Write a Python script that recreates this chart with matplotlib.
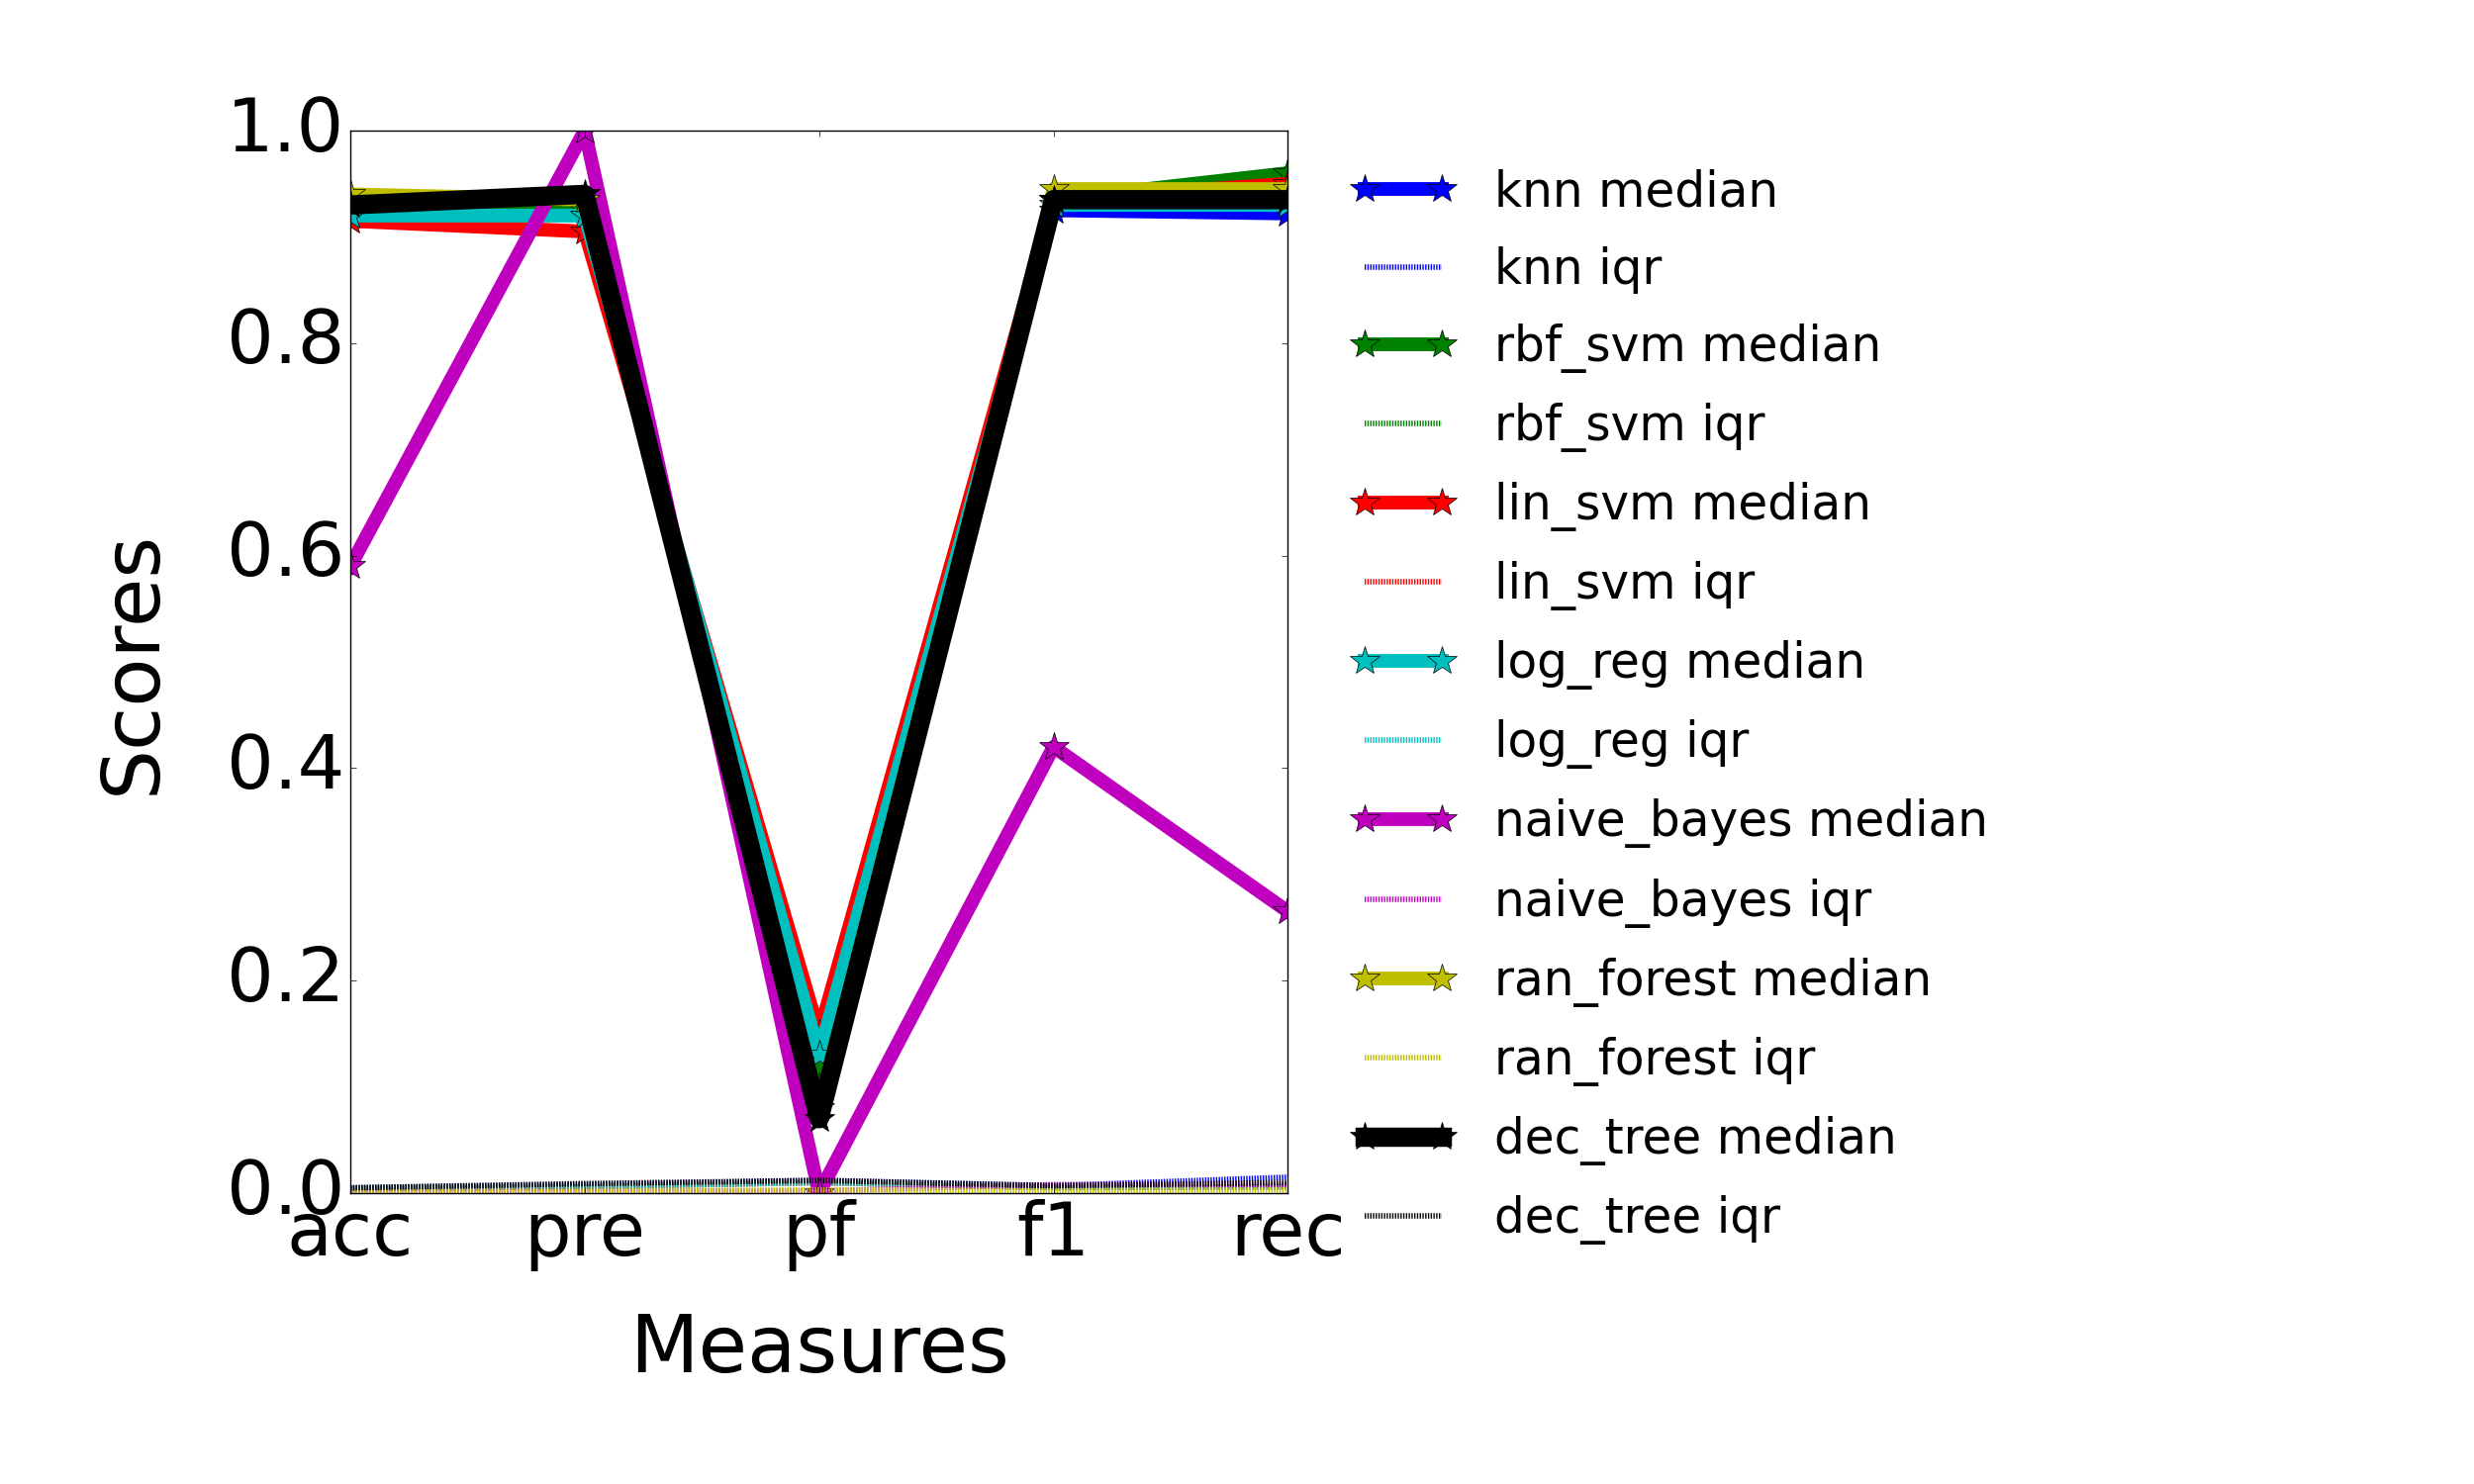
import matplotlib
matplotlib.use("Agg")
import matplotlib.pyplot as plt

measures = ["acc", "pre", "pf", "f1", "rec"]
learners = ["knn", "rbf_svm", "lin_svm", "log_reg", "naive_bayes", "ran_forest", "dec_tree"]
colors = ["b", "g", "r", "c", "m", "y", "k"]

knn_median = [0.925, 0.93, 0.09, 0.925, 0.922]
rbf_svm_median = [0.925, 0.925, 0.10, 0.935, 0.96]
lin_svm_median = [0.915, 0.905, 0.15, 0.935, 0.95]
log_reg_median = [0.92, 0.92, 0.13, 0.93, 0.93]
naive_bayes_median = [0.59, 1.0, 0.0, 0.42, 0.265]
ran_forest_median = [0.94, 0.935, 0.08, 0.945, 0.945]
dec_tree_median = [0.93, 0.94, 0.07, 0.935, 0.935]

knn_iqr = [0.005, 0.008, 0.012, 0.007, 0.015]
rbf_svm_iqr = [0.004, 0.006, 0.01, 0.005, 0.006]
lin_svm_iqr = [0.004, 0.006, 0.01, 0.005, 0.006]
log_reg_iqr = [0.004, 0.006, 0.01, 0.005, 0.006]
naive_bayes_iqr = [0.001, 0.002, 0.002, 0.008, 0.008]
ran_forest_iqr = [0.001, 0.002, 0.003, 0.002, 0.003]
dec_tree_iqr = [0.005, 0.009, 0.012, 0.007, 0.010]

medians = [knn_median, rbf_svm_median, lin_svm_median, log_reg_median,
           naive_bayes_median, ran_forest_median, dec_tree_median]
iqrs = [knn_iqr, rbf_svm_iqr, lin_svm_iqr, log_reg_iqr,
        naive_bayes_iqr, ran_forest_iqr, dec_tree_iqr]

plt.style.use("classic")
fig = plt.figure(figsize=(25, 15), dpi=100)
ax = fig.add_axes([0.1416, 0.196, 0.379, 0.716])
x = range(len(measures))
for name, c, med, iqr in zip(learners, colors, medians, iqrs):
    lw = 14 if c == "k" else 10
    ax.plot(x, med, color=c, lw=lw, marker="*", markersize=22, label=name + " median")
    ax.plot(x, iqr, color=c, lw=4, linestyle=(0, (1, 1)), label=name + " iqr")

ax.set_xlim(0, 4)
ax.set_ylim(0, 1)
ax.set_xticks(list(x))
ax.set_xticklabels(measures)
ax.tick_params(labelsize=54)
ax.set_xlabel("Measures", fontsize=58, labelpad=30)
ax.set_ylabel("Scores", fontsize=58, labelpad=40)
ax.legend(loc="upper left", bbox_to_anchor=(1.02, 1.005), frameon=False,
          fontsize=35, handlelength=2.2, numpoints=2, labelspacing=0.62)
fig.savefig("out.png", dpi=100)
